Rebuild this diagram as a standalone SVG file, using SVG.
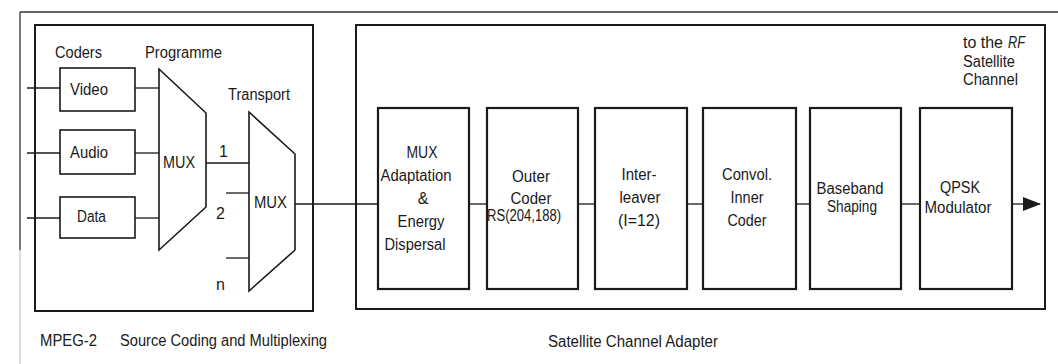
<svg xmlns="http://www.w3.org/2000/svg" width="1058" height="364" viewBox="0 0 1058 364">
<style>
  text { font-family: "Liberation Sans", Arial, sans-serif; font-size: 16px; fill: #1a1a1a; }
  .c { text-anchor: middle; }
  .frame { fill: none; stroke: #1a1a1a; stroke-width: 2; }
  .box { fill: #fff; stroke: #1a1a1a; stroke-width: 1.6; }
  .blk { fill: #fff; stroke: #1a1a1a; stroke-width: 2.2; }
  .mux { fill: #fff; stroke: #1a1a1a; stroke-width: 1.6; }
  .ln { fill: none; stroke: #1a1a1a; stroke-width: 1.3; }
</style>
<defs>
  <marker id="arr" markerWidth="18" markerHeight="14" refX="17" refY="7" orient="auto" markerUnits="userSpaceOnUse">
    <path d="M0,0 L18,7 L0,14 Z" fill="#1a1a1a"/>
  </marker>
</defs>
<rect width="1058" height="364" fill="#fff"/>

<g id="outer-frame">
  <line x1="20" y1="12" x2="1058" y2="12" stroke="#333" stroke-width="1.3"/>
  <line x1="20" y1="12" x2="20" y2="250" stroke="#333" stroke-width="1.3"/>
  <line x1="20" y1="250" x2="20" y2="364" stroke="#ccc" stroke-width="1.3"/>
</g>

<g id="source-section">
  <rect class="frame" x="35" y="25" width="278" height="286"/>
  <text x="55" y="58" textLength="47" lengthAdjust="spacingAndGlyphs">Coders</text>
  <text x="145" y="58" textLength="77" lengthAdjust="spacingAndGlyphs">Programme</text>
  <text x="228" y="100" textLength="62" lengthAdjust="spacingAndGlyphs">Transport</text>
</g>

<g id="satellite-section">
  <rect class="frame" x="356" y="25" width="689" height="284"/>
  <text x="963" y="48" textLength="40" lengthAdjust="spacingAndGlyphs">to the</text>
  <text x="1008" y="48" font-style="italic" textLength="17" lengthAdjust="spacingAndGlyphs">RF</text>
  <text x="963" y="67" textLength="52" lengthAdjust="spacingAndGlyphs">Satellite</text>
  <text x="963" y="85" textLength="55" lengthAdjust="spacingAndGlyphs">Channel</text>
</g>

<g id="connectors">
  <line class="ln" x1="27" y1="88" x2="60" y2="88"/>
  <line class="ln" x1="27" y1="153" x2="60" y2="153"/>
  <line class="ln" x1="27" y1="218" x2="60" y2="218"/>
  <line class="ln" x1="135" y1="88" x2="159" y2="88"/>
  <line class="ln" x1="135" y1="153" x2="159" y2="153"/>
  <line class="ln" x1="135" y1="218" x2="159" y2="218"/>
  <line class="ln" x1="206" y1="163" x2="249" y2="163"/>
  <line class="ln" x1="226" y1="193" x2="249" y2="193"/>
  <line class="ln" x1="226" y1="258" x2="249" y2="258"/>
  <line class="ln" x1="295" y1="204" x2="378" y2="204"/>
  <line class="ln" x1="469" y1="204" x2="487" y2="204"/>
  <line class="ln" x1="578" y1="204" x2="595" y2="204"/>
  <line class="ln" x1="687" y1="204" x2="703" y2="204"/>
  <line class="ln" x1="796" y1="204" x2="810" y2="204"/>
  <line class="ln" x1="901" y1="204" x2="920" y2="204"/>
  <line class="ln" x1="1012" y1="204" x2="1040" y2="204" stroke-width="2" marker-end="url(#arr)"/>
  <text x="219" y="157">1</text>
  <text x="216" y="219">2</text>
  <text x="216" y="290">n</text>
</g>

<g id="video">
  <rect class="box" x="60" y="68" width="75" height="43"/>
  <text x="70" y="95" textLength="38" lengthAdjust="spacingAndGlyphs">Video</text>
</g>
<g id="audio">
  <rect class="box" x="60" y="130" width="75" height="44"/>
  <text x="70" y="158" textLength="38" lengthAdjust="spacingAndGlyphs">Audio</text>
</g>
<g id="data">
  <rect class="box" x="60" y="197" width="75" height="41"/>
  <text x="77" y="222" textLength="29" lengthAdjust="spacingAndGlyphs">Data</text>
</g>

<g id="programme-mux">
  <polygon class="mux" points="159,69 206,113 206,207 159,250"/>
  <text x="163" y="168" textLength="32" lengthAdjust="spacingAndGlyphs">MUX</text>
</g>
<g id="transport-mux">
  <polygon class="mux" points="249,112 295,154 295,250 249,291"/>
  <text x="254" y="208" textLength="33" lengthAdjust="spacingAndGlyphs">MUX</text>
</g>

<g id="mux-adaptation">
  <rect class="blk" x="378" y="108" width="91" height="181"/>
  <text class="c" x="422" y="158" textLength="31" lengthAdjust="spacingAndGlyphs">MUX</text>
  <text class="c" x="416" y="181" textLength="71" lengthAdjust="spacingAndGlyphs">Adaptation</text>
  <text class="c" x="423" y="204">&amp;</text>
  <text class="c" x="421" y="227" textLength="47" lengthAdjust="spacingAndGlyphs">Energy</text>
  <text class="c" x="415" y="250" textLength="61" lengthAdjust="spacingAndGlyphs">Dispersal</text>
</g>
<g id="outer-coder">
  <rect class="blk" x="487" y="108" width="91" height="181"/>
  <text class="c" x="531" y="182" textLength="38" lengthAdjust="spacingAndGlyphs">Outer</text>
  <text class="c" x="531" y="204" textLength="41" lengthAdjust="spacingAndGlyphs">Coder</text>
  <text class="c" x="524" y="221" font-size="14" textLength="74" lengthAdjust="spacingAndGlyphs">RS(204,188)</text>
</g>
<g id="interleaver">
  <rect class="blk" x="595" y="108" width="92" height="181"/>
  <text class="c" x="639" y="180" textLength="35" lengthAdjust="spacingAndGlyphs">Inter-</text>
  <text class="c" x="640" y="203" textLength="41" lengthAdjust="spacingAndGlyphs">leaver</text>
  <text class="c" x="639" y="226" textLength="42" lengthAdjust="spacingAndGlyphs">(I=12)</text>
</g>
<g id="inner-coder">
  <rect class="blk" x="703" y="108" width="93" height="181"/>
  <text class="c" x="747" y="180" textLength="50" lengthAdjust="spacingAndGlyphs">Convol.</text>
  <text class="c" x="747" y="203" textLength="33" lengthAdjust="spacingAndGlyphs">Inner</text>
  <text class="c" x="747" y="226" textLength="39" lengthAdjust="spacingAndGlyphs">Coder</text>
</g>
<g id="baseband">
  <rect class="blk" x="810" y="108" width="91" height="181"/>
  <text class="c" x="850" y="194" textLength="67" lengthAdjust="spacingAndGlyphs">Baseband</text>
  <text class="c" x="852" y="212" textLength="50" lengthAdjust="spacingAndGlyphs">Shaping</text>
</g>
<g id="qpsk">
  <rect class="blk" x="920" y="108" width="92" height="181"/>
  <text class="c" x="960" y="193" textLength="40" lengthAdjust="spacingAndGlyphs">QPSK</text>
  <text class="c" x="958" y="213" textLength="67" lengthAdjust="spacingAndGlyphs">Modulator</text>
</g>

<g id="captions">
  <text x="40" y="346" textLength="57" lengthAdjust="spacingAndGlyphs">MPEG-2</text>
  <text x="120" y="346" textLength="207" lengthAdjust="spacingAndGlyphs">Source Coding and Multiplexing</text>
  <text x="548" y="347" textLength="170" lengthAdjust="spacingAndGlyphs">Satellite Channel Adapter</text>
</g>
</svg>
